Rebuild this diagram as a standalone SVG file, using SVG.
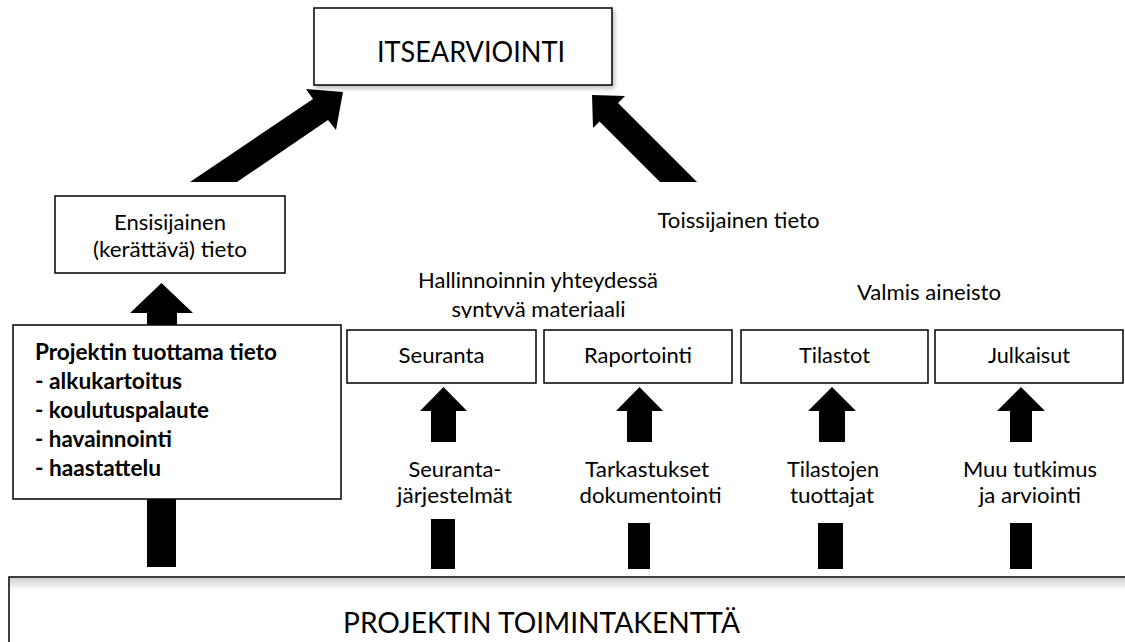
<svg xmlns="http://www.w3.org/2000/svg" width="1125" height="642" viewBox="0 0 1125 642">
  <style>
    .box { fill: #ffffff; stroke: #000000; stroke-width: 1.5; }
    .t { font-family: "Lato", "Liberation Sans", sans-serif; font-size: 21px; fill: #000000; text-anchor: middle; }
    .big { font-family: "Lato", "Liberation Sans", sans-serif; font-size: 28px; fill: #000000; text-anchor: middle; }
    .b { font-family: "Lato", "Liberation Sans", sans-serif; font-size: 22px; font-weight: bold; fill: #000000; }
    .arrow { fill: #000000; stroke: none; }
  </style>
  <defs>
    <clipPath id="clipSyn">
      <rect x="300" y="260" width="500" height="58"/>
    </clipPath>
    <linearGradient id="topShade" x1="0" y1="0" x2="0" y2="1">
      <stop offset="0" stop-color="#cfcfcf"/>
      <stop offset="1" stop-color="#ffffff"/>
    </linearGradient>
    <filter id="shadow" x="-10%" y="-10%" width="130%" height="140%">
      <feGaussianBlur in="SourceAlpha" stdDeviation="2"/>
      <feOffset dx="2" dy="3" result="o"/>
      <feComponentTransfer><feFuncA type="linear" slope="0.25"/></feComponentTransfer>
      <feMerge><feMergeNode/><feMergeNode in="SourceGraphic"/></feMerge>
    </filter>
  </defs>

  <g id="connectors">
    <polygon class="arrow" points="190,182 313,99 306,89 343,92 336,130 328,120 237,182"/>
    <polygon class="arrow" points="697,182 618,103 625,96 592,95 593,128 599.5,121.5 660,182"/>
    <polygon class="arrow" points="161.5,283 193,313 177,313 177,325 147,325 147,313 130,313"/>
    <polygon class="arrow" points="443.5,387 467,411 456,411 456,442 431,442 431,411 420,411"/>
    <polygon class="arrow" points="639.5,387 663,411 652,411 652,442 627,442 627,411 616,411"/>
    <polygon class="arrow" points="832,387 856,411 845,411 845,442 819,442 819,411 808,411"/>
    <polygon class="arrow" points="1021,387 1045,411 1032,411 1032,442 1010,442 1010,411 997,411"/>
    <rect class="arrow" x="147" y="499" width="29" height="68"/>
    <rect class="arrow" x="431" y="519" width="24" height="50"/>
    <rect class="arrow" x="628" y="523" width="22" height="46"/>
    <rect class="arrow" x="818" y="523" width="25" height="46"/>
    <rect class="arrow" x="1010" y="523" width="22" height="46"/>
  </g>

  <g id="itsearviointi">
    <rect class="box" x="314" y="8" width="298" height="77" filter="url(#shadow)"/>
    <text class="big" x="471" y="62" textLength="188" lengthAdjust="spacingAndGlyphs">ITSEARVIOINTI</text>
  </g>

  <g id="ensisijainen">
    <rect class="box" x="55" y="196" width="230" height="77"/>
    <text class="t" x="170" y="230" textLength="112" lengthAdjust="spacingAndGlyphs">Ensisijainen</text>
    <text class="t" x="170" y="257" textLength="154" lengthAdjust="spacingAndGlyphs">(kerättävä) tieto</text>
  </g>

  <g id="toissijainen">
    <text class="t" x="738.5" y="228" textLength="162" lengthAdjust="spacingAndGlyphs">Toissijainen tieto</text>
  </g>

  <g id="hallinnointi">
    <text class="t" x="538" y="288" textLength="240" lengthAdjust="spacingAndGlyphs">Hallinnoinnin yhteydessä</text>
    <text class="t" x="538.5" y="317" textLength="174" lengthAdjust="spacingAndGlyphs" clip-path="url(#clipSyn)">syntyvä materiaali</text>
  </g>

  <g id="valmis">
    <text class="t" x="929" y="300" textLength="144" lengthAdjust="spacingAndGlyphs">Valmis aineisto</text>
  </g>

  <g id="projektin-tieto">
    <rect class="box" x="13" y="325" width="328" height="174"/>
    <text class="b" x="35" y="360" textLength="242" lengthAdjust="spacingAndGlyphs">Projektin tuottama tieto</text>
    <text class="b" x="35" y="389" textLength="147" lengthAdjust="spacingAndGlyphs">- alkukartoitus</text>
    <text class="b" x="35" y="418" textLength="174" lengthAdjust="spacingAndGlyphs">- koulutuspalaute</text>
    <text class="b" x="35" y="447" textLength="137" lengthAdjust="spacingAndGlyphs">- havainnointi</text>
    <text class="b" x="35" y="476" textLength="126" lengthAdjust="spacingAndGlyphs">- haastattelu</text>
  </g>

  <g id="seuranta">
    <rect class="box" x="347" y="330" width="189" height="53"/>
    <text class="t" x="441.5" y="363" textLength="86" lengthAdjust="spacingAndGlyphs">Seuranta</text>
  </g>
  <g id="raportointi">
    <rect class="box" x="544" y="330" width="188" height="53"/>
    <text class="t" x="638" y="363" textLength="108" lengthAdjust="spacingAndGlyphs">Raportointi</text>
  </g>
  <g id="tilastot">
    <rect class="box" x="741" y="330" width="187" height="53"/>
    <text class="t" x="834.5" y="363" textLength="71" lengthAdjust="spacingAndGlyphs">Tilastot</text>
  </g>
  <g id="julkaisut">
    <rect class="box" x="935" y="330" width="188" height="53"/>
    <text class="t" x="1029" y="363" textLength="82" lengthAdjust="spacingAndGlyphs">Julkaisut</text>
  </g>

  <g id="seurantajarjestelmat">
    <text class="t" x="455" y="477" textLength="93" lengthAdjust="spacingAndGlyphs">Seuranta-</text>
    <text class="t" x="454.5" y="503" textLength="115" lengthAdjust="spacingAndGlyphs">järjestelmät</text>
  </g>
  <g id="tarkastukset">
    <text class="t" x="647" y="477" textLength="124" lengthAdjust="spacingAndGlyphs">Tarkastukset</text>
    <text class="t" x="650.5" y="503" textLength="142" lengthAdjust="spacingAndGlyphs">dokumentointi</text>
  </g>
  <g id="tilastojen">
    <text class="t" x="833" y="477" textLength="92" lengthAdjust="spacingAndGlyphs">Tilastojen</text>
    <text class="t" x="832" y="503" textLength="84" lengthAdjust="spacingAndGlyphs">tuottajat</text>
  </g>
  <g id="muu-tutkimus">
    <text class="t" x="1030" y="477" textLength="134" lengthAdjust="spacingAndGlyphs">Muu tutkimus</text>
    <text class="t" x="1030" y="503" textLength="102" lengthAdjust="spacingAndGlyphs">ja arviointi</text>
  </g>

  <g id="toimintakentta">
    <rect class="box" x="9" y="577" width="1130" height="80"/>
    <rect x="10" y="578" width="1128" height="12" fill="url(#topShade)"/>
    <text class="big" x="541.5" y="633" textLength="397" lengthAdjust="spacingAndGlyphs">PROJEKTIN TOIMINTAKENTTÄ</text>
  </g>
</svg>
